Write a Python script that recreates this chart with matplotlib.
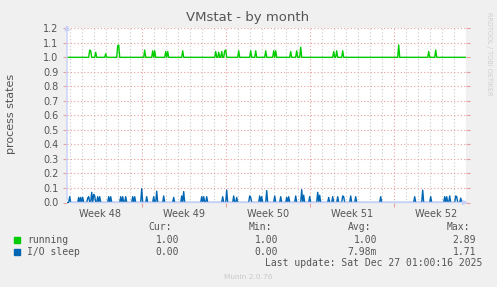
import matplotlib.pyplot as plt
import numpy as np

# hours since Mon 1 Dec 2025 00:00, 2h resolution (munin month RRA)
t_start = -148
t_end = 648

# spikes: (hour, value)
running_spikes = [(-104, 1.05), (-102, 1.045), (-92, 1.035), (-72, 1.025), (-48, 1.08), (-46, 1.085),
                  (6, 1.05), (22, 1.045), (26, 1.045), (48, 1.04), (52, 1.04), (82, 1.045),
                  (148, 1.04), (154, 1.035), (160, 1.04), (166, 1.045), (168, 1.05), (194, 1.045),
                  (218, 1.045), (228, 1.045), (248, 1.045), (264, 1.045), (268, 1.045), (298, 1.04),
                  (310, 1.045), (318, 1.07), (384, 1.04), (390, 1.045), (402, 1.045), (514, 1.085),
                  (574, 1.04), (588, 1.05)]
io_sleep_spikes = [(-144, 0.04), (-126, 0.035), (-122, 0.035), (-118, 0.035), (-108, 0.03), (-106, 0.04),
                   (-100, 0.07), (-96, 0.055), (-94, 0.045), (-88, 0.04), (-84, 0.04), (-66, 0.04),
                   (-62, 0.04), (-42, 0.04), (-38, 0.04), (-32, 0.04), (-18, 0.04), (-14, 0.04),
                   (0, 0.095), (10, 0.04), (24, 0.04), (30, 0.078), (44, 0.045), (64, 0.035),
                   (80, 0.045), (84, 0.075), (120, 0.04), (124, 0.04), (130, 0.04), (162, 0.04),
                   (170, 0.085), (184, 0.045), (190, 0.035), (216, 0.045), (218, 0.035), (236, 0.045),
                   (240, 0.04), (250, 0.082), (266, 0.045), (278, 0.04), (290, 0.035), (294, 0.04),
                   (308, 0.045), (320, 0.088), (324, 0.05), (336, 0.04), (352, 0.07), (356, 0.05),
                   (374, 0.035), (382, 0.04), (392, 0.04), (402, 0.045), (404, 0.04), (418, 0.045),
                   (428, 0.04), (478, 0.04), (546, 0.04), (562, 0.085), (578, 0.04), (606, 0.04),
                   (610, 0.04), (616, 0.045), (628, 0.045), (630, 0.04), (638, 0.03)]
running_base = 1.0
io_sleep_base = 0.0

week_labels = ['Week 48', 'Week 49', 'Week 50', 'Week 51', 'Week 52']
week_centers = [-84, 84, 252, 420, 588]
week_starts = [0, 168, 336, 504]

legend_names = ['running', 'I/O sleep']
legend_colors = ['#00CC00', '#0066B3']
legend_cur = ['1.00', '0.00']
legend_min = ['1.00', '0.00']
legend_avg = ['1.00', '7.98m']
legend_max = ['2.89', '1.71']


def build(base, spikes):
    t = np.arange(t_start, t_end + 1, 2)
    v = np.full(len(t), base)
    for h, val in spikes:
        v[(h - t_start) // 2] = val
    return t, v


W, H = 497, 287
fig = plt.figure(figsize=(W / 100, H / 100), dpi=100, facecolor='#F0F0F0')
ax = fig.add_axes([67 / W, 1 - 202.5 / H, 399 / W, 174.2 / H])
ax.set_facecolor('white')
ax.set_xlim(-149.4, 648.6)
ax.set_ylim(0, 1.2)
for s in ax.spines.values():
    s.set_visible(False)

# grid
dot = (0, (1, 2))
for h in range(-144, 649, 24):
    if h in week_starts:
        ax.axvline(h, color='#E8A0A0', ls=dot, lw=0.8, zorder=1)
    else:
        ax.axvline(h, color='#C8C8C8', ls=dot, lw=0.8, zorder=1)
for y in np.arange(0.1, 1.25, 0.1):
    ax.axhline(y, color='#E8A0A0', ls=dot, lw=0.8, zorder=1)

t, v = build(running_base, running_spikes)
ax.plot(t, v, color=legend_colors[0], lw=1, zorder=3)
t, v = build(io_sleep_base, io_sleep_spikes)
ax.plot(t, v, color=legend_colors[1], lw=1, zorder=3)

# axes with arrows
ax.annotate('', xy=(1.012, 0), xytext=(0, 0), xycoords='axes fraction',
            arrowprops=dict(arrowstyle='-|>', color='#C8D0F8', lw=1, mutation_scale=7), annotation_clip=False)
ax.annotate('', xy=(0, 1.035), xytext=(0, 0), xycoords='axes fraction',
            arrowprops=dict(arrowstyle='-|>', color='#C8D0F8', lw=1, mutation_scale=7), annotation_clip=False)

ax.set_yticks(np.arange(0, 1.25, 0.1))
ax.set_yticklabels(['%.1f' % y for y in np.arange(0, 1.25, 0.1)])
ax.set_xticks(week_centers)
ax.set_xticklabels(week_labels)
ax.set_xticks(week_starts, minor=True)
ax.tick_params(labelsize=7, colors='#555555')
ax.tick_params(axis='y', length=3, width=0.8, color='#E8A0A0', right=True, pad=3)
ax.tick_params(axis='x', which='major', length=0, pad=5)
ax.tick_params(axis='x', which='minor', length=3, width=0.8, color='#E8A0A0')

fig.text(248 / W, 1 - 18 / H, 'VMstat - by month', ha='center', va='center', fontsize=9.5, color='#555555')
fig.text(11 / W, 1 - 114 / H, 'process states', ha='center', va='center', rotation=90, fontsize=8, color='#555555')
fig.text(489 / W, 1 - 54 / H, 'RRDTOOL / TOBI OETIKER', ha='center', va='center', rotation=270,
         fontsize=4.7, color='#CFCFCF')

mono = 'DejaVu Sans Mono'
fs = 7
row_y = [240, 251.7]
for x, txt in zip([172, 272, 371, 470], ['Cur:', 'Min:', 'Avg:', 'Max:']):
    fig.text(x / W, 1 - 227.3 / H, txt, ha='right', va='center', family=mono, fontsize=fs, color='#555555')
for i in range(2):
    y = 1 - row_y[i] / H
    fig.patches.append(plt.Rectangle((14 / W, y - 3 / H), 6 / W, 6 / H, transform=fig.transFigure,
                                     color=legend_colors[i], figure=fig))
    fig.text(27 / W, y, legend_names[i], ha='left', va='center', family=mono, fontsize=fs, color='#555555')
    for x, col in zip([179, 278, 377, 476], [legend_cur, legend_min, legend_avg, legend_max]):
        fig.text(x / W, y, col[i], ha='right', va='center', family=mono, fontsize=fs, color='#555555')
fig.text(482 / W, 1 - 263.3 / H, 'Last update: Sat Dec 27 01:00:16 2025', ha='right', va='center',
         family=mono, fontsize=fs, color='#555555')
fig.text(248 / W, 1 - 276.7 / H, 'Munin 2.0.76', ha='center', va='center', fontsize=5.3, color='#C8C8C8')

fig.savefig('out.png', dpi=100, facecolor=fig.get_facecolor())
